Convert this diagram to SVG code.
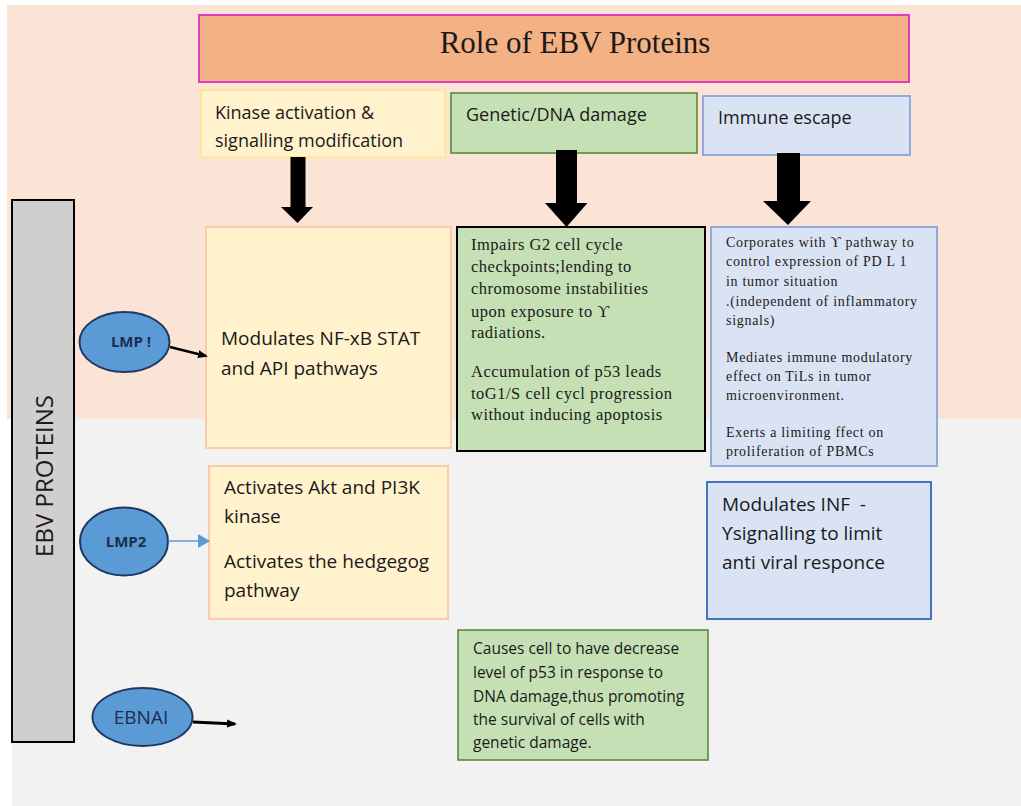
<svg xmlns="http://www.w3.org/2000/svg" width="1021" height="806" viewBox="0 0 1021 806">
<defs>
<style>
.sans{font-family:"Open Sans","Liberation Sans","DejaVu Sans",sans-serif;fill:#1a1a1a}
.serif{font-family:"Liberation Serif","DejaVu Serif",serif;fill:#1a1a1a}
.big{font-size:19px}
.hdr{font-size:18px}
.s16{font-size:16.5px;letter-spacing:0.5px}
.s14{font-size:14px;letter-spacing:0.7px}
.s15{font-size:15.5px}
.ell{fill:#5B9BD5;stroke:#203864;stroke-width:2}
.elt{font-family:"Open Sans","Liberation Sans",sans-serif;fill:#1F2D4D;text-anchor:middle}
.blk{fill:#000}
.pre{white-space:pre}
</style>
<marker id="ahB" markerWidth="10" markerHeight="10" refX="8" refY="5" orient="auto" markerUnits="userSpaceOnUse" viewBox="0 0 10 10">
<path d="M0,1 L10,5 L0,9 Z" fill="#000"/>
</marker>
<marker id="ahBlue" markerWidth="12" markerHeight="14" refX="11" refY="7" orient="auto" markerUnits="userSpaceOnUse" viewBox="0 0 12 14">
<path d="M0,0 L12,7 L0,14 Z" fill="#5B9BD5"/>
</marker>
</defs>
<rect x="0" y="0" width="1021" height="806" fill="#ffffff"/>
<rect x="7" y="5" width="1014" height="414" fill="#FBE4D6"/>
<rect x="12" y="419" width="1009" height="387" fill="#F2F2F2"/>

<g id="title">
<rect x="199" y="15" width="710" height="67" fill="#F4B183" stroke="#E03CC0" stroke-width="2"/>
<text x="575" y="53" class="serif" font-size="31" text-anchor="middle">Role of EBV Proteins</text>
</g>

<g id="hdr-kinase">
<rect x="201" y="90" width="244" height="67" fill="#FFF2CC" stroke="#FFE699" stroke-width="2"/>
<text x="215" y="119" class="sans hdr">Kinase activation &amp;</text>
<text x="215" y="147" class="sans hdr">signalling modification</text>
</g>
<g id="hdr-genetic">
<rect x="451" y="93" width="246" height="60" fill="#C5E0B4" stroke="#548235" stroke-width="1.5"/>
<text x="466" y="121" class="sans hdr">Genetic/DNA damage</text>
</g>
<g id="hdr-immune">
<rect x="703" y="96" width="207" height="59" fill="#DAE3F3" stroke="#8FAADC" stroke-width="2"/>
<text x="718" y="124" class="sans hdr">Immune escape</text>
</g>

<g id="side-bar">
<rect x="12" y="200" width="62" height="542" fill="#D0CECE" stroke="#000" stroke-width="2"/>
<text transform="translate(53,476) rotate(-90)" class="sans" font-size="24" text-anchor="middle">EBV PROTEINS</text>
</g>

<g id="box-lmp1">
<rect x="206" y="227" width="245" height="221" fill="#FFF2CC" stroke="#F8CBAD" stroke-width="2"/>
<text x="221" y="345" class="sans big">Modulates NF-xB STAT</text>
<text x="221" y="375" class="sans big">and API pathways</text>
</g>

<g id="box-dna">
<rect x="457" y="227" width="248" height="224" fill="#C5E0B4" stroke="#000" stroke-width="2"/>
<text class="serif s16">
<tspan x="471" y="250">Impairs G2 cell cycle</tspan>
<tspan x="471" y="272">checkpoints;lending to</tspan>
<tspan x="471" y="294">chromosome instabilities</tspan>
<tspan x="471" y="317">upon exposure to ϒ</tspan>
<tspan x="471" y="338">radiations.</tspan>
<tspan x="471" y="377">Accumulation of p53 leads</tspan>
<tspan x="471" y="399">toG1/S cell cycl progression</tspan>
<tspan x="471" y="420">without inducing apoptosis</tspan>
</text>
</g>

<g id="box-immune">
<rect x="711" y="227" width="226" height="239" fill="#DAE3F3" stroke="#8FAADC" stroke-width="2"/>
<text class="serif s14">
<tspan x="726" y="247">Corporates with ϒ pathway to</tspan>
<tspan x="726" y="266">control expression of PD L 1</tspan>
<tspan x="726" y="286">in tumor situation</tspan>
<tspan x="726" y="306">.(independent of inflammatory</tspan>
<tspan x="726" y="325">signals)</tspan>
<tspan x="726" y="362">Mediates immune modulatory</tspan>
<tspan x="726" y="381">effect on TiLs in tumor</tspan>
<tspan x="726" y="400">microenvironment.</tspan>
<tspan x="726" y="437">Exerts a limiting ffect on</tspan>
<tspan x="726" y="456">proliferation of PBMCs</tspan>
</text>
</g>

<g id="box-lmp2">
<rect x="209" y="466" width="239" height="153" fill="#FFF2CC" stroke="#F8CBAD" stroke-width="2"/>
<text x="224" y="494" class="sans big">Activates Akt and PI3K</text>
<text x="224" y="523" class="sans big">kinase</text>
<text x="224" y="568" class="sans big">Activates the hedgegog</text>
<text x="224" y="597" class="sans big">pathway</text>
</g>

<g id="box-inf">
<rect x="707" y="482" width="224" height="137" fill="#DAE3F3" stroke="#4472C4" stroke-width="2"/>
<text x="722" y="511" class="sans big pre" xml:space="preserve">Modulates INF  -</text>
<text x="722" y="540" class="sans big">ϒsignalling to limit</text>
<text x="722" y="569" class="sans big">anti viral responce</text>
</g>

<g id="box-ebna">
<rect x="458" y="630" width="250" height="130" fill="#C5E0B4" stroke="#548235" stroke-width="1.5"/>
<text class="sans s15">
<tspan x="473" y="654">Causes cell to have decrease</tspan>
<tspan x="473" y="678">level of p53 in response to</tspan>
<tspan x="473" y="702">DNA damage,thus promoting</tspan>
<tspan x="473" y="725">the survival of cells with</tspan>
<tspan x="473" y="748">genetic damage.</tspan>
</text>
</g>

<g id="node-lmp1">
<ellipse cx="124.5" cy="342" rx="45" ry="30" class="ell"/>
<text x="131" y="347" class="elt" font-size="15" font-weight="bold">LMP !</text>
</g>
<g id="node-lmp2">
<ellipse cx="124" cy="541.5" rx="44" ry="34" class="ell"/>
<text x="126" y="547" class="elt" font-size="15" font-weight="bold">LMP2</text>
</g>
<g id="node-ebna">
<ellipse cx="142.5" cy="717" rx="50" ry="29" class="ell"/>
<text x="141" y="724" class="elt" font-size="19">EBNAI</text>
</g>

<g id="connectors">
<path class="blk" d="M290.5,157 H305.5 V207 H313 L297.5,223 L281,207 H290.5 Z"/>
<path class="blk" d="M556,150 H577 V203 H587.5 L566.5,227 L545,203 H556 Z"/>
<path class="blk" d="M777,153 H800 V201 H811 L788,225 L763,201 H777 Z"/>
<line x1="170" y1="347" x2="206" y2="356" stroke="#000" stroke-width="2.5" marker-end="url(#ahB)"/>
<line x1="168" y1="541" x2="209" y2="541" stroke="#5B9BD5" stroke-width="1.5" marker-end="url(#ahBlue)"/>
<line x1="193" y1="722" x2="235" y2="724" stroke="#000" stroke-width="3" marker-end="url(#ahB)"/>
</g>
</svg>
